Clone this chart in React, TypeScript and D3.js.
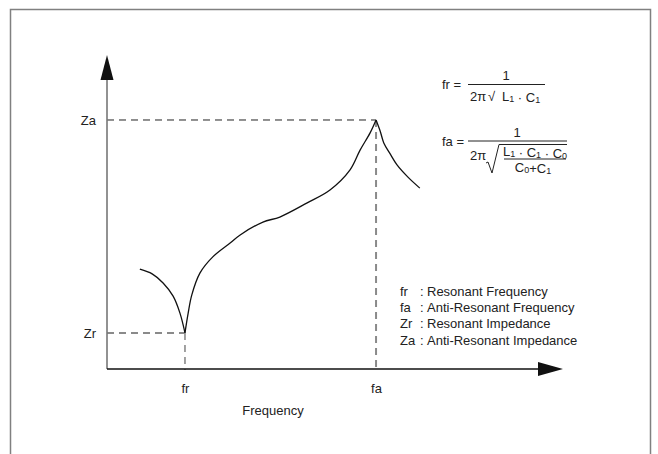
import * as d3 from 'd3';
import React, { useRef, useEffect } from 'react';

const width = 658;
const height = 454;

// impedance vs frequency, arbitrary units (0-100 on both axes)
const curveFreq = [7.2, 9.9, 12.3, 14.5, 16.0, 17.1, 17.8, 18.6, 20.4, 23.2, 27.0, 29.2, 34.2, 37.9, 43.9, 48.9, 53.3, 55.5, 57.7, 59.0, 59.9, 60.7, 62.1, 63.6, 66.0, 68.6];
const curveImp = [31.8, 30.3, 27.4, 23.2, 17.8, 11.5, 17.8, 23.6, 30.6, 35.7, 40.1, 42.7, 46.8, 48.4, 52.9, 57.0, 63.4, 69.7, 75.2, 79.3, 75.8, 72.0, 68.5, 65.0, 61.1, 57.6];

const freqTicks = [17.1, 59.0];
const freqTickLabels = ['fr', 'fa'];
const impTicks = [11.5, 79.3];
const impTickLabels = ['Zr', 'Za'];

const legendKeys = ['fr', 'fa', 'Zr', 'Za'];
const legendTexts = ['Resonant Frequency', 'Anti-Resonant Frequency', 'Resonant Impedance', 'Anti-Resonant Impedance'];

const font = "'Liberation Sans', Arial, sans-serif";
const fs = 13;

function Chart() {
  const ref = useRef<SVGSVGElement>(null);

  useEffect(() => {
    draw();
  }, []);

  const draw = () => {
    const svg = d3.select(ref.current);
    svg.selectAll('*').remove();

    const x = d3.scaleLinear().domain([0, 100]).range([107, 563]);
    const y = d3.scaleLinear().domain([0, 100]).range([369, 55]);

    // outer frame (open at the bottom)
    svg
      .append('path')
      .attr('d', `M10.5,${height + 5} V9.5 H650.5 V${height + 5}`)
      .attr('fill', 'none')
      .attr('stroke', '#808080')
      .attr('stroke-width', 1.5);

    // guide lines
    const guideStyle = [
      { h: '#8a8a8a', hw: 2, v: '#8a8a8a', vw: 1.6 },
      { h: '#222', hw: 1, v: '#8a8a8a', vw: 2 },
    ];
    freqTicks.forEach((f, i) => {
      const s = guideStyle[i];
      svg
        .append('line')
        .attr('x1', x(0))
        .attr('x2', x(f))
        .attr('y1', y(impTicks[i]))
        .attr('y2', y(impTicks[i]))
        .attr('stroke', s.h)
        .attr('stroke-width', s.hw)
        .attr('stroke-dasharray', '7,5');
      svg
        .append('line')
        .attr('x1', x(f))
        .attr('x2', x(f))
        .attr('y1', y(impTicks[i]))
        .attr('y2', y(0) + 1)
        .attr('stroke', s.v)
        .attr('stroke-width', s.vw)
        .attr('stroke-dasharray', '7,5');
    });

    // axes lines + arrows
    svg
      .append('line')
      .attr('x1', x(0))
      .attr('x2', x(0))
      .attr('y1', y(0))
      .attr('y2', y(100) + 22)
      .attr('stroke', '#777')
      .attr('stroke-width', 1.6);
    svg
      .append('path')
      .attr('d', `M${x(0)},${y(100)} L${x(0) - 6.5},${y(100) + 25} L${x(0) + 6.5},${y(100) + 25} Z`)
      .attr('fill', '#111');
    svg
      .append('line')
      .attr('x1', x(0))
      .attr('x2', x(100) - 22)
      .attr('y1', y(0))
      .attr('y2', y(0))
      .attr('stroke', '#111')
      .attr('stroke-width', 1.3);
    svg
      .append('path')
      .attr('d', `M${x(100)},${y(0)} L${x(100) - 25},${y(0) - 7} L${x(100) - 25},${y(0) + 7} Z`)
      .attr('fill', '#111');

    // tick labels
    const xAxis = d3
      .axisBottom(x)
      .tickValues(freqTicks)
      .tickFormat((d, i) => freqTickLabels[i])
      .tickSize(0)
      .tickPadding(14.5);
    const gx = svg.append('g').attr('transform', `translate(0,${y(0)})`).call(xAxis);
    gx.select('.domain').remove();
    gx.selectAll('text').attr('font-family', font).attr('font-size', fs).attr('fill', '#222');

    const yAxis = d3
      .axisLeft(y)
      .tickValues(impTicks)
      .tickFormat((d, i) => impTickLabels[i])
      .tickSize(0)
      .tickPadding(11);
    const gy = svg.append('g').attr('transform', `translate(${x(0)},0)`).call(yAxis);
    gy.select('.domain').remove();
    gy.selectAll('text').attr('font-family', font).attr('font-size', fs).attr('fill', '#222');

    svg
      .append('text')
      .attr('x', 273)
      .attr('y', 414.5)
      .attr('text-anchor', 'middle')
      .attr('font-family', font)
      .attr('font-size', fs)
      .attr('fill', '#222')
      .text('Frequency');

    // impedance curve, split at the resonance cusps
    const pts = curveFreq.map((f, i) => [f, curveImp[i]] as [number, number]);
    const iMin = curveImp.indexOf(d3.min(curveImp) as number);
    const iMax = curveImp.indexOf(d3.max(curveImp) as number);
    const segments = [pts.slice(0, iMin + 1), pts.slice(iMin, iMax + 1), pts.slice(iMax)];
    const line = d3
      .line<[number, number]>()
      .x(d => x(d[0]))
      .y(d => y(d[1]))
      .curve(d3.curveCatmullRom.alpha(0.5));
    svg
      .selectAll('path.curve')
      .data(segments)
      .enter()
      .append('path')
      .attr('class', 'curve')
      .attr('d', d => line(d))
      .attr('fill', 'none')
      .attr('stroke', '#111')
      .attr('stroke-width', 1.3);

    // legend
    const lg = svg.append('g').attr('font-family', font).attr('font-size', fs).attr('fill', '#222');
    legendKeys.forEach((k, i) => {
      const by = 296 + i * 16.2;
      lg.append('text').attr('x', 400).attr('y', by).text(k);
      lg.append('text').attr('x', 420).attr('y', by).text(':');
      lg.append('text').attr('x', 427).attr('y', by).text(legendTexts[i]);
    });

    // formulas
    const fg = svg.append('g').attr('font-family', font).attr('font-size', fs).attr('fill', '#222');
    const sub = (t: any, main: string, s: string) => {
      t.append('tspan').text(main);
      t.append('tspan').attr('font-size', 9).attr('dy', 1).text(s);
      t.append('tspan').attr('dy', -1).text('');
    };

    fg.append('text').attr('x', 442).attr('y', 89).text('fr =');
    fg.append('line').attr('x1', 468).attr('x2', 545).attr('y1', 84.5).attr('y2', 84.5).attr('stroke', '#222');
    fg.append('text').attr('x', 506).attr('y', 80).attr('text-anchor', 'middle').text('1');
    fg.append('text').attr('x', 470).attr('y', 101).text('2π');
    fg.append('text').attr('x', 488).attr('y', 101).text('√');
    const t1 = fg.append('text').attr('x', 502).attr('y', 101);
    sub(t1, 'L', '1');
    t1.append('tspan').text(' · ');
    sub(t1, 'C', '1');

    fg.append('text').attr('x', 442).attr('y', 145.5).text('fa =');
    fg.append('line').attr('x1', 468).attr('x2', 567).attr('y1', 141).attr('y2', 141).attr('stroke', '#222');
    fg.append('text').attr('x', 517).attr('y', 137).attr('text-anchor', 'middle').text('1');
    fg.append('text').attr('x', 470).attr('y', 160).text('2π');
    fg.append('path')
      .attr('d', 'M486,163 L488,162 L492,173 L499,144.5 L567,144.5')
      .attr('fill', 'none')
      .attr('stroke', '#222');
    const t2 = fg.append('text').attr('x', 535).attr('y', 156).attr('text-anchor', 'middle');
    sub(t2, 'L', '1');
    t2.append('tspan').text(' · ');
    sub(t2, 'C', '1');
    t2.append('tspan').text(' · ');
    sub(t2, 'C', '0');
    fg.append('line').attr('x1', 504).attr('x2', 566).attr('y1', 159).attr('y2', 159).attr('stroke', '#222');
    const t3 = fg.append('text').attr('x', 533).attr('y', 172).attr('text-anchor', 'middle');
    sub(t3, 'C', '0');
    t3.append('tspan').text('+');
    sub(t3, 'C', '1');
  };

  return (
    <svg
      ref={ref}
      width={width}
      height={height}
      style={{ position: 'absolute', left: 0, top: 0, background: '#fff' }}
    />
  );
}

export default function App() {
  return <Chart />;
}
